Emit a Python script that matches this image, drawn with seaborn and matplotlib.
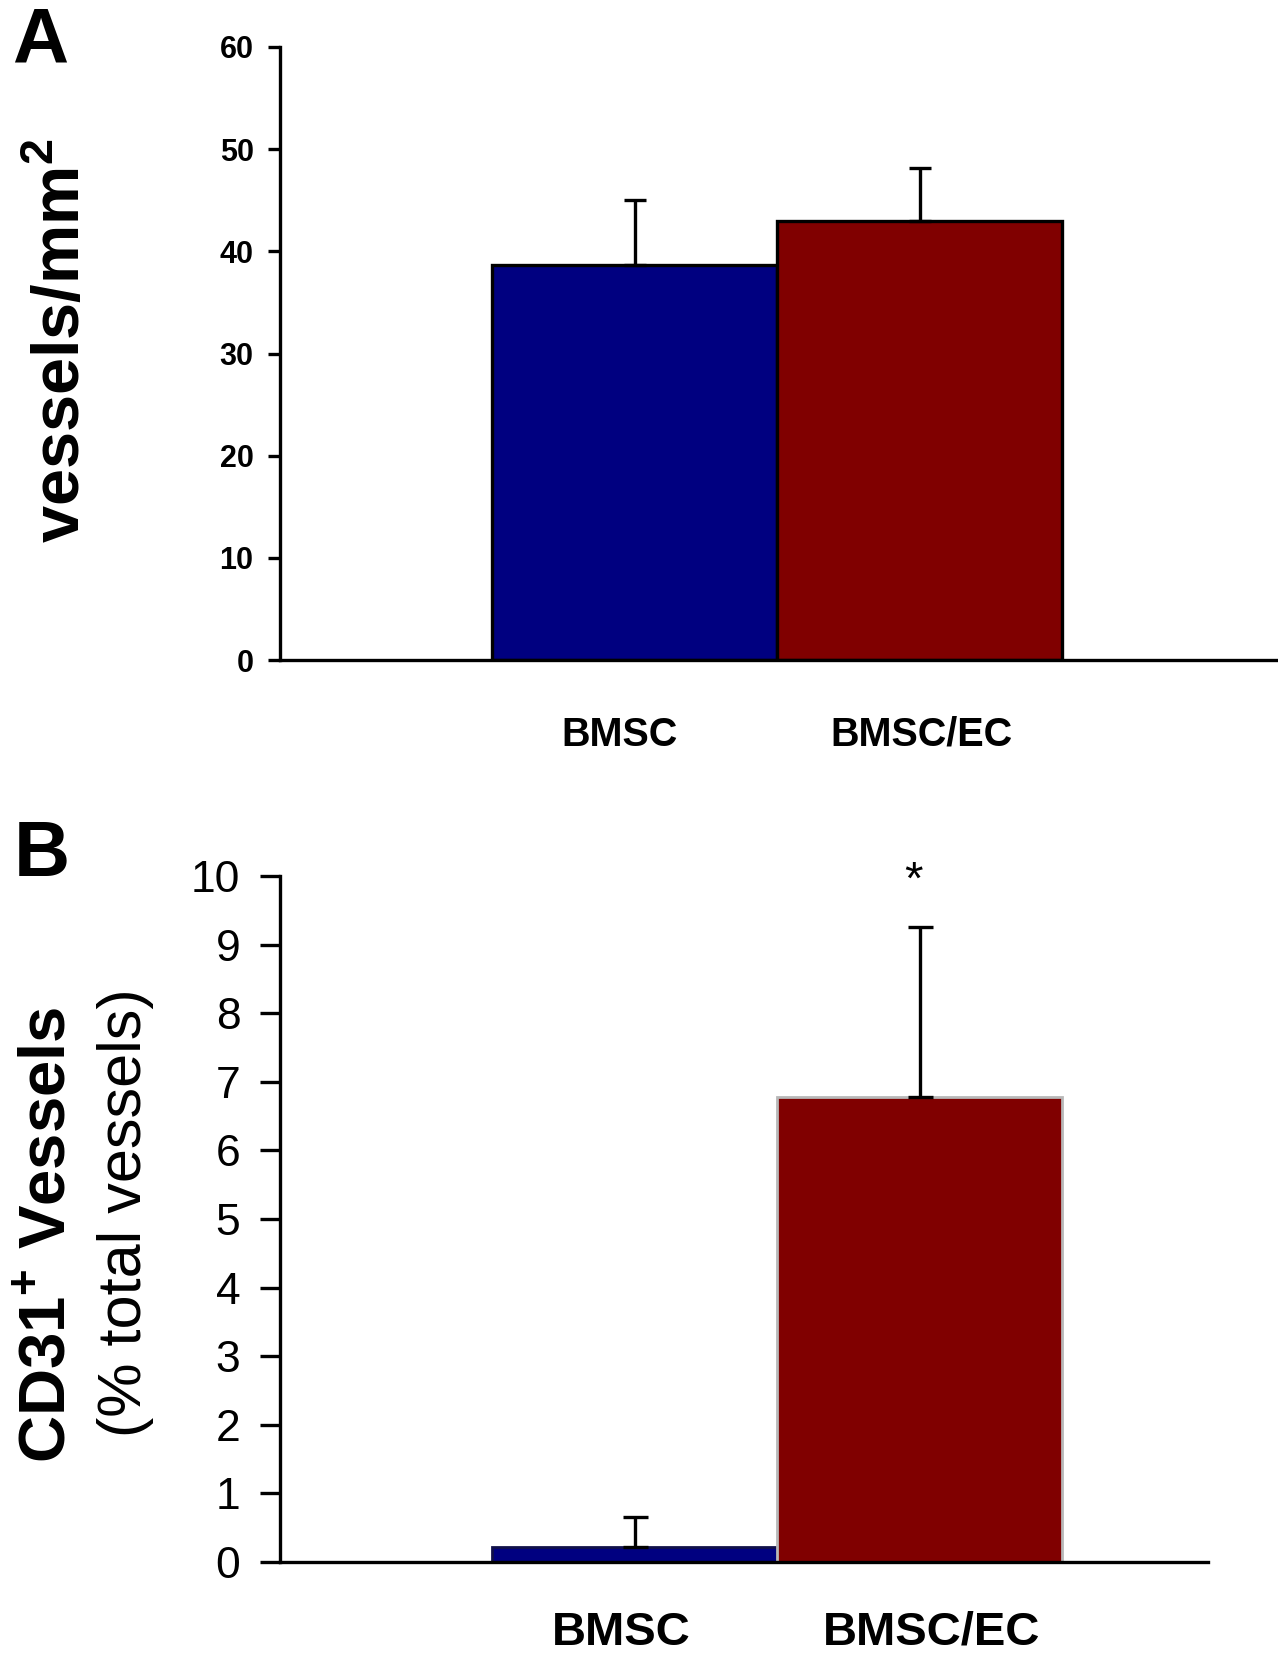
import matplotlib
matplotlib.use("Agg")
import matplotlib.pyplot as plt
import matplotlib.transforms as mtransforms
import seaborn as sns
import pandas as pd

# ---- data ----
groups = ["BMSC", "BMSC/EC"]
vessel_density = [38.7, 43.0]
vessel_density_err = [6.3, 5.2]
cd31_pct = [0.22, 6.78]
cd31_pct_err = [0.44, 2.47]
bar_colors = ["#000080", "#800000"]
yticks_a = [0, 10, 20, 30, 40, 50, 60]
yticks_b = [0, 1, 2, 3, 4, 5, 6, 7, 8, 9, 10]

sns.set_theme(style="white")
plt.rcParams["font.family"] = ["Liberation Sans", "DejaVu Sans"]
plt.rcParams["mathtext.fontset"] = "custom"
plt.rcParams["mathtext.rm"] = "Liberation Sans"
plt.rcParams["mathtext.bf"] = "Liberation Sans:bold"
for k in ["text.color", "axes.labelcolor", "xtick.color", "ytick.color", "axes.edgecolor"]:
    plt.rcParams[k] = "black"

W, H = 1278, 1655
fig = plt.figure(figsize=(W / 100, H / 100), dpi=100)

def box(l, r, t, b):
    return [l / W, 1 - b / H, (r - l) / W, (b - t) / H]

def shift_labels(ax, offsets_px):
    for lab, dx in zip(ax.get_xticklabels(), offsets_px):
        off = mtransforms.ScaledTranslation(dx / 100, 0, fig.dpi_scale_trans)
        lab.set_transform(lab.get_transform() + off)

axA = fig.add_axes(box(280, 1277, 47, 660))
axB = fig.add_axes(box(280, 1208, 876, 1562))

# ---- Panel A ----
dfA = pd.DataFrame({"group": groups, "value": vessel_density})
sns.barplot(data=dfA, x="group", y="value", hue="group", palette=bar_colors,
            saturation=1, width=1.0, edgecolor="black", linewidth=2.4,
            legend=False, ax=axA, zorder=2)
axA.errorbar(x=list(range(len(groups))), y=vessel_density,
             yerr=[[0] * len(groups), vessel_density_err], fmt="none",
             ecolor="black", elinewidth=2.4, capsize=8, capthick=2.4, zorder=3)
axA.set_xlim(-1.244, 2.254)
axA.set_ylim(0, 60)
axA.set_yticks(yticks_a)
axA.set_yticklabels([str(v) for v in yticks_a], fontsize=22, fontweight="bold")
axA.set_xticks(range(len(groups)))
axA.set_xticklabels(groups, fontsize=28.5, fontweight="bold")
axA.set_xticks([-1.244, 2.254], minor=True)
axA.tick_params(axis="x", which="major", length=0, pad=40)
axA.tick_params(axis="x", which="minor", length=9, width=2.4, direction="out", color="black")
axA.tick_params(axis="y", length=9, width=2.4, direction="out", color="black", pad=10, left=True)
shift_labels(axA, [-15, 2])
axA.set_xlabel("")
axA.set_ylabel("")
for s in ["top", "right"]:
    axA.spines[s].set_visible(False)
for s in ["left", "bottom"]:
    axA.spines[s].set_color("black")
    axA.spines[s].set_linewidth(2.4)

fig.text(62 / W, 1 - 341 / H, r"vessels/mm$^{\mathbf{2}}$", rotation=90,
         ha="center", va="center", fontsize=48, fontweight="bold")
fig.text(40 / W, 1 - 42 / H, "A", ha="center", va="center", fontsize=56, fontweight="bold")

# ---- Panel B ----
dfB = pd.DataFrame({"group": groups, "value": cd31_pct})
sns.barplot(data=dfB, x="group", y="value", hue="group", palette=bar_colors,
            saturation=1, width=1.0, linewidth=2.0, legend=False, ax=axB, zorder=2)
axB.patches[0].set_edgecolor("#10104a")
axB.patches[1].set_edgecolor("#b8b8b8")
axB.errorbar(x=list(range(len(groups))), y=cd31_pct,
             yerr=[[0] * len(groups), cd31_pct_err], fmt="none",
             ecolor="black", elinewidth=2.4, capsize=9, capthick=2.4, zorder=3)
axB.text(0.98, 9.92, "*", ha="center", va="center", fontsize=34, clip_on=False)
axB.set_xlim(-1.244, 2.012)
axB.set_ylim(0, 10)
axB.set_yticks(yticks_b)
axB.set_yticklabels([str(v) for v in yticks_b], fontsize=32)
axB.set_xticks(range(len(groups)))
axB.set_xticklabels(groups, fontsize=34, fontweight="bold")
axB.tick_params(axis="x", length=0, pad=35)
axB.tick_params(axis="y", length=14.5, width=2.4, direction="out", color="black", pad=14, left=True)
shift_labels(axB, [-13, 12])
axB.set_xlabel("")
axB.set_ylabel("")
for s in ["top", "right"]:
    axB.spines[s].set_visible(False)
for s in ["left", "bottom"]:
    axB.spines[s].set_color("black")
    axB.spines[s].set_linewidth(2.4)

fig.text(48 / W, 1 - 1235 / H, r"CD31$^{\mathbf{+}}$ Vessels", rotation=90,
         ha="center", va="center", fontsize=47, fontweight="bold")
fig.text(125 / W, 1 - 1213 / H, "(% total vessels)", rotation=90,
         ha="center", va="center", fontsize=44)
fig.text(42 / W, 1 - 855 / H, "B", ha="center", va="center", fontsize=56, fontweight="bold")

fig.savefig("out.png", dpi=100)
